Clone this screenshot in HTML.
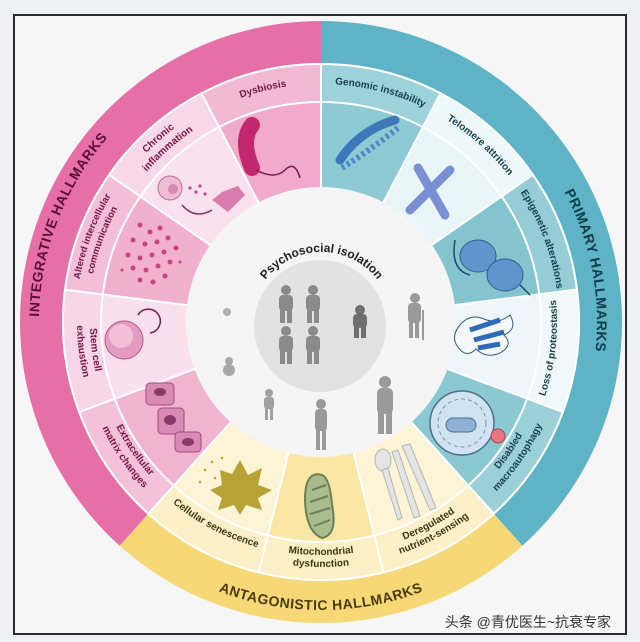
<!DOCTYPE html>
<html><head><meta charset="utf-8">
<style>
html,body{margin:0;padding:0;background:#eef0f3;}
svg{display:block}
text{font-family:"Liberation Sans","Noto Sans CJK SC",sans-serif;}
</style></head><body>
<svg id="s" width="640" height="642" viewBox="0 0 640 642" xmlns="http://www.w3.org/2000/svg">
<defs id="defs">
 <g id="pp"><circle cx="0" cy="-16" r="5"/><rect x="-7" y="-11" width="14" height="16" rx="4"/><rect x="-6" y="4" width="5" height="13"/><rect x="1" y="4" width="5" height="13"/></g>
</defs>
<rect x="0" y="0" width="640" height="642" fill="#eef0f3"/>
<rect x="14" y="15" width="612" height="619" fill="#f6f6f6" stroke="#2a2a2a" stroke-width="2"/>
<g id="sectors"></g>
<circle cx="321" cy="322" r="135" fill="#f5f5f5"/>
<circle cx="320" cy="326" r="66" fill="#e2e2e2"/>
<path id="pc" d="M 255 300 A 70 70 0 0 1 388 300" fill="none"/>
<text font-size="12" font-weight="bold" fill="#222"><textPath href="#pc" startOffset="50%" text-anchor="middle">Psychosocial isolation</textPath></text>
<g fill="#8a8a8a">
 <use href="#pp" x="286" y="306"/><use href="#pp" x="313" y="306"/><use href="#pp" x="286" y="347"/><use href="#pp" x="313" y="347"/>
 <g fill="#6f6f6f"><circle cx="360" cy="310" r="5"/><rect x="353" y="314" width="14" height="14" rx="4"/><rect x="354" y="327" width="5" height="11"/><rect x="361" y="327" width="5" height="11"/></g>
 <g fill="#999"><circle cx="415" cy="298" r="5"/><rect x="408" y="303" width="13" height="20" rx="4"/><rect x="409" y="322" width="4" height="16"/><rect x="415" y="322" width="4" height="16"/><rect x="422" y="310" width="2" height="30"/></g>
 <g fill="#9a9a9a"><circle cx="385" cy="382" r="6"/><rect x="377" y="388" width="16" height="26" rx="5"/><rect x="378" y="412" width="6" height="22"/><rect x="386" y="412" width="6" height="22"/></g>
 <g fill="#999"><circle cx="321" cy="404" r="5"/><rect x="315" y="409" width="12" height="22" rx="4"/><rect x="316" y="430" width="4" height="20"/><rect x="322" y="430" width="4" height="20"/></g>
 <g fill="#a0a0a0"><circle cx="269" cy="393" r="4"/><rect x="264" y="397" width="10" height="12" rx="3"/><rect x="265" y="408" width="3" height="12"/><rect x="270" y="408" width="3" height="12"/></g>
 <g fill="#a8a8a8"><circle cx="229" cy="361" r="4"/><ellipse cx="229" cy="370" rx="6" ry="6"/></g>
 <ellipse cx="227" cy="312" rx="4" ry="4" fill="#b0b0b0"/>
</g>
<g>
 <path d="M 252 125 Q 240 140 252 168" stroke="#c3286e" stroke-width="16" stroke-linecap="round" fill="none"/>
 <path d="M 256 170 Q 275 180 285 170 Q 295 160 300 178" stroke="#7a1a4a" stroke-width="1.5" fill="none"/>
 <circle cx="170" cy="188" r="12" fill="#eebcd4" stroke="#c66a98"/><circle cx="173" cy="189" r="5" fill="#d889b0"/>
 <g fill="#b84a86"><circle cx="190" cy="188" r="1.6"/><circle cx="196" cy="192" r="1.6"/><circle cx="200" cy="186" r="1.6"/><circle cx="205" cy="194" r="1.6"/></g>
 <path d="M 212 200 L 222 192 L 238 186 L 245 195 L 236 204 L 228 212 Z" fill="#d97bae"/>
 <path d="M 182 205 Q 195 220 212 210" stroke="#8a2b5d" stroke-width="1.5" fill="none"/>
 <g fill="#c8437f">
  <circle cx="140" cy="225" r="2.5"/><circle cx="150" cy="232" r="2.5"/><circle cx="160" cy="228" r="2.5"/><circle cx="133" cy="240" r="2.5"/><circle cx="145" cy="244" r="2.5"/><circle cx="157" cy="242" r="2.5"/><circle cx="168" cy="238" r="2.5"/><circle cx="128" cy="255" r="2.5"/><circle cx="140" cy="258" r="2.5"/><circle cx="152" cy="255" r="2.5"/><circle cx="164" cy="252" r="2.5"/><circle cx="176" cy="248" r="2.5"/><circle cx="133" cy="268" r="2.5"/><circle cx="146" cy="270" r="2.5"/><circle cx="158" cy="266" r="2.5"/><circle cx="170" cy="262" r="2.5"/><circle cx="140" cy="280" r="2.5"/><circle cx="153" cy="282" r="2.5"/><circle cx="165" cy="276" r="2.5"/><circle cx="122" cy="270" r="1.5"/><circle cx="180" cy="262" r="1.5"/>
 </g>
 <circle cx="124" cy="340" r="19" fill="#e49bc2" stroke="#b2568a"/><circle cx="121" cy="336" r="12" fill="#f0bfd8"/>
 <path d="M 138 315 A 12 12 0 1 1 150 333" stroke="#7a1a4a" stroke-width="1.5" fill="none"/>
 <g fill="#d88ab3" stroke="#a64c80"><rect x="146" y="383" width="28" height="22" rx="4"/><rect x="158" y="408" width="26" height="26" rx="4"/><rect x="175" y="432" width="26" height="20" rx="4"/></g>
 <g fill="#8a3a6a"><ellipse cx="160" cy="392" rx="6" ry="4"/><ellipse cx="170" cy="420" rx="6" ry="5"/><ellipse cx="188" cy="442" rx="6" ry="4"/></g>
 <path d="M 240 460 L 248 475 L 262 468 L 258 485 L 272 490 L 258 498 L 262 510 L 246 505 L 240 515 L 234 505 L 218 510 L 222 498 L 210 490 L 222 485 L 220 470 L 232 474 Z" fill="#b7a236"/>
 <g fill="#b7a236"><circle cx="205" cy="470" r="1.3"/><circle cx="212" cy="462" r="1.3"/><circle cx="222" cy="458" r="1.3"/><circle cx="200" cy="482" r="1.3"/><circle cx="215" cy="478" r="1.3"/></g>
 <path d="M 322 475 Q 305 470 305 500 Q 306 532 322 538 Q 338 535 332 505 Q 330 478 322 475 Z" fill="#a9bc8b" stroke="#6d7d58" stroke-width="2"/>
 <path d="M 312 490 L 326 485 M 310 502 L 328 496 M 310 514 L 330 508 M 314 526 L 330 520" stroke="#6d7d58" stroke-width="2"/>
 <g fill="#e4e4e4" stroke="#b5b5b5"><ellipse cx="383" cy="460" rx="8" ry="11"/><path d="M 382 470 L 398 520 L 402 518 L 388 468 Z"/><path d="M 392 452 L 398 450 L 420 516 L 414 518 Z"/><path d="M 402 446 L 410 444 L 436 508 L 430 510 Z"/></g>
 <circle cx="462" cy="423" r="32" fill="#cfe3f3" stroke="#4a6f8a" stroke-width="1.5"/>
 <circle cx="462" cy="423" r="24" fill="none" stroke="#7895ae" stroke-dasharray="4 3"/>
 <rect x="446" y="418" width="30" height="14" rx="7" fill="#8fb0d3" stroke="#4d6e93"/>
 <circle cx="498" cy="436" r="7" fill="#e87584" stroke="#b3404f"/>
 <path d="M 460 325 q 10 -12 24 -6 q 14 6 26 -4 q 8 14 -6 20 q 10 10 -4 18 q -14 6 -24 -4 q -10 10 -18 -2 q -8 -10 2 -22 z" fill="#f4f8fb" stroke="#3a5a7a" stroke-width="1"/>
 <path d="M 470 330 L 500 320 M 474 340 L 504 332 M 478 348 L 500 344" stroke="#2d6bb8" stroke-width="5"/>
 <path d="M 455 240 Q 450 270 470 275" stroke="#1d4b70" stroke-width="1.5" fill="none"/>
 <ellipse cx="478" cy="256" rx="18" ry="16" fill="#5d96cc" stroke="#2a5e90"/>
 <ellipse cx="505" cy="275" rx="18" ry="16" fill="#5d96cc" stroke="#2a5e90"/>
 <path d="M 520 285 L 530 295" stroke="#1d4b70" stroke-width="1.5"/>
 <path d="M 410 210 L 450 170 M 445 215 L 418 168" stroke="#7a90d4" stroke-width="9" stroke-linecap="round"/>
 <path d="M 340 160 Q 360 130 395 120" stroke="#3d79b8" stroke-width="9" fill="none" stroke-linecap="round"/>
 <path d="M 342 168 Q 370 150 398 128" stroke="#4d8ac7" stroke-width="6" fill="none" stroke-dasharray="3 3"/>
</g>
<g id="labels" font-weight="bold">
 <text font-size="14" fill="#5a1035" letter-spacing="0.5"><textPath href="#h1" startOffset="50%" text-anchor="middle">INTEGRATIVE HALLMARKS</textPath></text>
 <text font-size="14" fill="#0f3c48" letter-spacing="0.5"><textPath href="#h2" startOffset="50%" text-anchor="middle">PRIMARY HALLMARKS</textPath></text>
 <text font-size="14" fill="#4a3b08" letter-spacing="0.5"><textPath href="#h3" startOffset="50%" text-anchor="middle">ANTAGONISTIC HALLMARKS</textPath></text>
 <text font-size="10" fill="#7a1346"><textPath href="#l1" startOffset="50%" text-anchor="middle">Dysbiosis</textPath></text>
 <text font-size="10" fill="#7a1346"><textPath href="#l2a" startOffset="50%" text-anchor="middle">Chronic</textPath></text>
 <text font-size="10" fill="#7a1346"><textPath href="#l2b" startOffset="50%" text-anchor="middle">inflammation</textPath></text>
 <text font-size="9.5" fill="#7a1346"><textPath href="#l3a" startOffset="50%" text-anchor="middle">Altered intercellular</textPath></text>
 <text font-size="9.5" fill="#7a1346"><textPath href="#l3b" startOffset="50%" text-anchor="middle">communication</textPath></text>
 <text font-size="10" fill="#7a1346"><textPath href="#l4a" startOffset="50%" text-anchor="middle">Stem cell</textPath></text>
 <text font-size="10" fill="#7a1346"><textPath href="#l4b" startOffset="50%" text-anchor="middle">exhaustion</textPath></text>
 <text font-size="10" fill="#7a1346"><textPath href="#l5a" startOffset="50%" text-anchor="middle">Extracellular</textPath></text>
 <text font-size="10" fill="#7a1346"><textPath href="#l5b" startOffset="50%" text-anchor="middle">matrix changes</textPath></text>
 <text font-size="10" fill="#163f4a"><textPath href="#p1" startOffset="50%" text-anchor="middle">Genomic instability</textPath></text>
 <text font-size="10" fill="#163f4a"><textPath href="#p2" startOffset="50%" text-anchor="middle">Telomere attrition</textPath></text>
 <text font-size="10" fill="#163f4a"><textPath href="#p3" startOffset="50%" text-anchor="middle">Epigenetic alterations</textPath></text>
 <text font-size="10" fill="#163f4a"><textPath href="#p4" startOffset="50%" text-anchor="middle">Loss of proteostasis</textPath></text>
 <text font-size="10" fill="#163f4a"><textPath href="#p5a" startOffset="50%" text-anchor="middle">Disabled</textPath></text>
 <text font-size="10" fill="#163f4a"><textPath href="#p5b" startOffset="50%" text-anchor="middle">macroautophagy</textPath></text>
 <text font-size="10" fill="#3f3510"><textPath href="#y1" startOffset="50%" text-anchor="middle">Cellular senescence</textPath></text>
 <text font-size="10" fill="#3f3510"><textPath href="#y2a" startOffset="50%" text-anchor="middle">Mitochondrial</textPath></text>
 <text font-size="10" fill="#3f3510"><textPath href="#y2b" startOffset="50%" text-anchor="middle">dysfunction</textPath></text>
 <text font-size="10" fill="#3f3510"><textPath href="#y3a" startOffset="50%" text-anchor="middle">Deregulated</textPath></text>
 <text font-size="10" fill="#3f3510"><textPath href="#y3b" startOffset="50%" text-anchor="middle">nutrient-sensing</textPath></text>
</g>
<text x="611" y="627" font-size="14" fill="#333" text-anchor="end">头条 @青优医生~抗衰专家</text>
</svg>
<script>
var cx=321,cy=322,NS="http://www.w3.org/2000/svg";
function P(a,r){var t=a*Math.PI/180;return (cx+r*Math.sin(t)).toFixed(2)+" "+(cy-r*Math.cos(t)).toFixed(2);}
function sector(a1,a2,r1,r2){var l=(a2-a1)>180?1:0;return "M "+P(a1,r2)+" A "+r2+" "+r2+" 0 "+l+" 1 "+P(a2,r2)+" L "+P(a2,r1)+" A "+r1+" "+r1+" 0 "+l+" 0 "+P(a1,r1)+" Z";}
function arc(a1,a2,r){var sw=a2>a1?1:0;var l=Math.abs(a2-a1)>180?1:0;return "M "+P(a1,r)+" A "+r+" "+r+" 0 "+l+" "+sw+" "+P(a2,r);}
var g=document.getElementById("sectors"),d=document.getElementById("defs");
function add(par,dd,fill,stroke){var p=document.createElementNS(NS,"path");p.setAttribute("d",dd);p.setAttribute("fill",fill);if(stroke){p.setAttribute("stroke",stroke);p.setAttribute("stroke-width","2");}par.appendChild(p);}
add(g,sector(0,138,258,301),"#5eb3c6");
add(g,sector(138,222,258,301),"#f6d877");
add(g,sector(222,360,258,301),"#e76fa7");
var segs=[
[0,27.6,"#8dcad4","#9ed2da"],[27.6,55.2,"#e9f5f8","#eef8fa"],[55.2,82.8,"#84c4cf","#96ccd5"],[82.8,110.4,"#eef6fa","#f1f8fb"],[110.4,138,"#8ac8d2","#9bd0d8"],
[138,166,"#fdf4d6","#fdf0c8"],[166,194,"#fbe7a4","#fcefc5"],[194,222,"#fdf4d6","#fdf0c8"],
[222,249.6,"#f0b4d0","#f3c2da"],[249.6,277.2,"#f9e0ec","#f7d6e6"],[277.2,304.8,"#f1b1ce","#f3bfd8"],[304.8,332.4,"#f9e1ed","#f8d8e7"],[332.4,360,"#f0aacb","#f2b9d5"]];
segs.forEach(function(s){add(g,sector(s[0],s[1],133,258),s[2],"#fff");add(g,sector(s[0],s[1],220,258),s[3],"#fff");});
var tp={
h1:[228,354,282],h2:[40,118,276],h3:[228,132,288],
l1:[334,358,238],l2a:[306,331,243],l2b:[306,331,230],l3a:[276,305,245],l3b:[276,305,233],
l4a:[276,250,231],l4b:[276,250,244],l5a:[249,222,230],l5b:[249,222,243],
p1:[2,27,238],p2:[29,55,238],p3:[56,83,238],p4:[110,83,236],p5a:[138,111,231],p5b:[138,111,244],
y1:[222,193,234],y2a:[194,166,233],y2b:[194,166,245],y3a:[166,138,233],y3b:[166,138,245]};
for(var k in tp){var v=tp[k];var p=document.createElementNS(NS,"path");p.setAttribute("id",k);p.setAttribute("d",arc(v[0],v[1],v[2]));p.setAttribute("fill","none");d.appendChild(p);}
</script>
</body></html>
